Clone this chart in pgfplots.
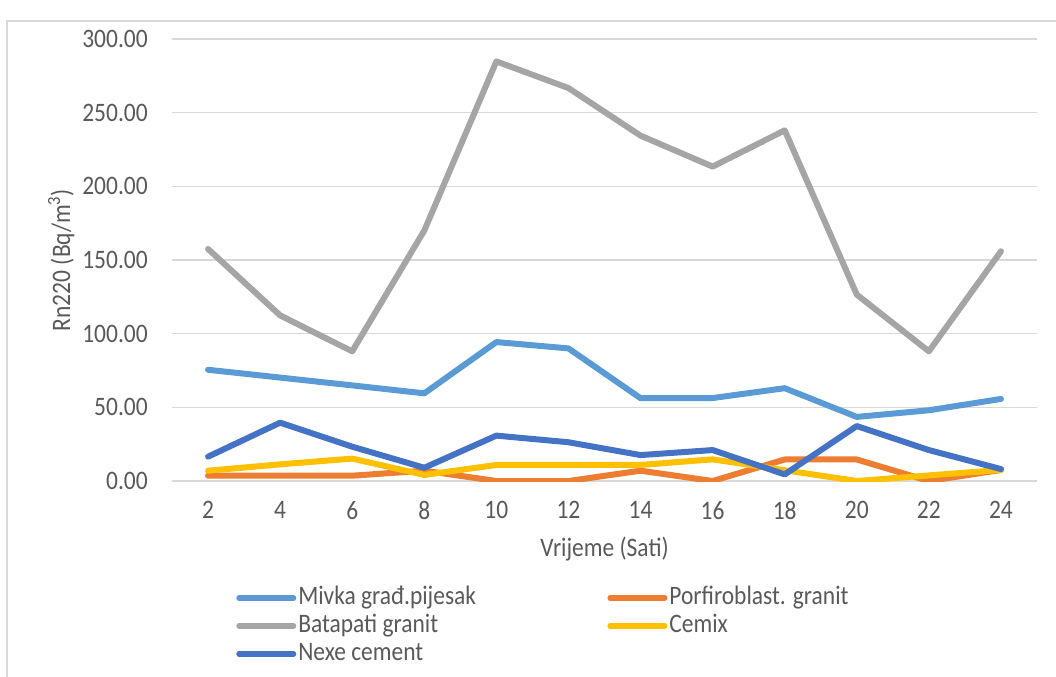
\documentclass[border=0pt]{standalone}
\usepackage{fontspec}
\setmainfont{Carlito}[FakeStretch=0.88]
\usepackage{pgfplots}
\pgfplotsset{compat=1.18}
\definecolor{cMivka}{HTML}{5B9BD5}
\definecolor{cPorf}{HTML}{ED7D31}
\definecolor{cBata}{HTML}{A5A5A5}
\definecolor{cCemix}{HTML}{FFC000}
\definecolor{cNexe}{HTML}{4472C4}
\definecolor{txt}{HTML}{595959}
\definecolor{gridc}{HTML}{D9D9D9}
\newcommand{\cf}{\fontsize{20}{23}\selectfont}
\begin{document}
\begin{tikzpicture}
\path[use as bounding box] (0,0) rectangle (792pt,-507.75pt);
\draw[gridc, line width=1pt] (5.25pt,-507.75pt) |- (792pt,-15.75pt);
\begin{axis}[
  at={(129pt,-360.75pt)}, anchor=south west,
  scale only axis, width=648.75pt, height=331.5pt,
  xmin=1, xmax=25, ymin=0, ymax=300,
  xtick={2,4,...,24}, ytick={0,50,...,300},
  ymajorgrids, grid style={gridc, line width=1.1pt},
  axis line style={draw=none},
  major tick length=0pt,
  /pgf/number format/assume math mode=true,
  yticklabel={\pgfmathprintnumber[fixed,fixed zerofill,precision=2]{\tick}},
  ticklabel style={font=\cf, text=txt},
  yticklabel style={inner sep=0pt, xshift=-18pt},
  xticklabel style={inner sep=0pt, yshift=-15pt},
  xlabel={Vrijeme (Sati)},
  ylabel={Rn220 (Bq/m\textsuperscript{3})},
  label style={font=\cf, text=txt},
  xlabel style={inner sep=0pt, anchor=center, at={(axis description cs:0.5,-0.153)}},
  ylabel style={inner sep=0pt, anchor=center, rotate=0, at={(axis description cs:-0.128,0.5)}},
  legend columns=2,
  legend cell align=left,
  legend image code/.code={\draw[#1, line width=4pt] (0pt,0pt) -- (41pt,0pt);},
  legend style={draw=none, fill=none, inner sep=0pt,
    at={(axis description cs:0.074,-0.233)}, anchor=north west,
    font=\cf, text=txt,
    nodes={inner sep=1.5pt, text height=13.5pt, text depth=4pt},
    row sep=0.5pt,
    /tikz/every even column/.append style={column sep=97pt}},
  every axis plot/.append style={line width=4.5pt, line join=round, line cap=round},
]
\addplot[cMivka] coordinates {(2,75.5)(4,70.2)(6,64.9)(8,59.5)(10,94.3)(12,90)(14,56.2)(16,56.3)(18,63)(20,43.5)(22,48)(24,55.7)};
\addlegendentry{Mivka građ.pijesak}
\addplot[cPorf] coordinates {(2,3.6)(4,3.6)(6,3.6)(8,7)(10,0)(12,0)(14,7)(16,0)(18,14.6)(20,14.6)(22,0)(24,7.5)};
\addlegendentry{Porfiroblast. granit}
\addplot[cBata] coordinates {(2,157.5)(4,112.4)(6,88)(8,170)(10,284.8)(12,266.7)(14,234.4)(16,213.4)(18,238)(20,126.5)(22,88)(24,155.9)};
\addlegendentry{Batapati granit}
\addplot[cCemix] coordinates {(2,7)(4,11.3)(6,15.2)(8,4.1)(10,10.9)(12,10.9)(14,10.9)(16,14.7)(18,7.3)(20,0)(22,3.8)(24,7.5)};
\addlegendentry{Cemix}
\addplot[cNexe] coordinates {(2,16.5)(4,39.6)(6,23.3)(8,9)(10,30.8)(12,26.3)(14,17.6)(16,21)(18,4.5)(20,37.3)(22,21)(24,8.1)};
\addlegendentry{Nexe cement}
\end{axis}
\end{tikzpicture}
\end{document}
